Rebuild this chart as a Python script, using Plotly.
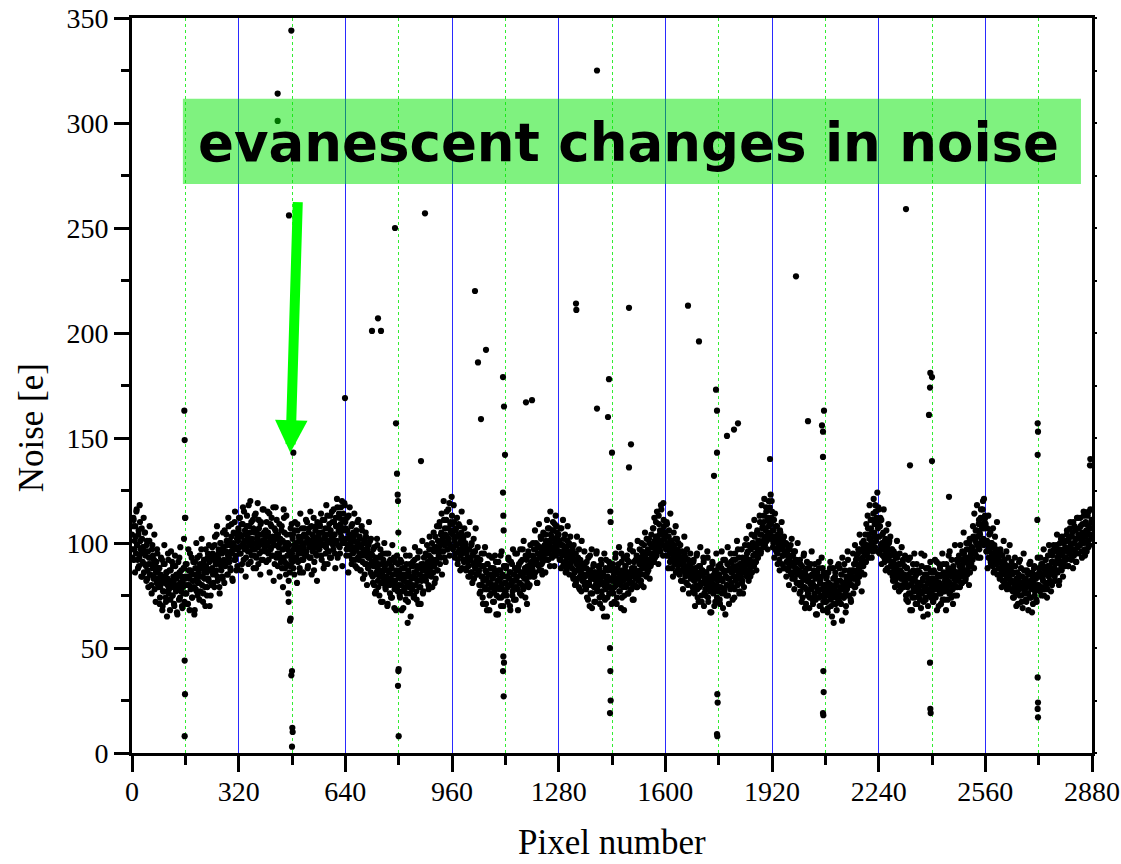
import plotly.graph_objects as go

# ---- bulk noise values: set A (even pixels) and set B (odd pixels), 320-pixel blocks ----
block_0000 = [104, 97, 112, 92, 101, 108, 95, 116, 99, 88, 106, 93, 110, 97, 84,
              102, 91, 98, 86, 105, 94, 89, 99, 83, 96, 90, 101, 85, 93, 80, 97, 88, 84, 92, 78, 90, 86, 81, 95, 83,
              79, 88, 74, 85, 81, 92, 70, 83, 77, 90, 84, 72, 86, 80, 95, 76, 82, 68, 87, 79,
              91, 75, 84, 71, 80, 89, 77, 83, 66, 85, 78, 93, 74, 81, 87, 70, 82, 76, 88, 80,
              84, 76, 90, 80, 71, 87, 83, 95, 78, 86, 74, 82, 91, 79, 68, 88, 85, 77, 93, 81,
              86, 73, 90, 84, 97, 80, 88, 76, 92, 83, 70, 89, 86, 79, 95, 82, 91, 87, 75, 93,
              88, 95, 81, 92, 99, 86, 90, 104, 84, 93, 97, 79, 91, 100, 87, 95, 83, 98, 92, 106,
              89, 96, 101, 85, 94, 108, 91, 99, 87, 103, 95, 82, 100, 97, 110, 92, 98, 104, 89, 101]
block_0320 = [106, 98, 112, 95, 103, 90, 109, 100, 115, 97, 104, 93, 108, 101, 96, 118, 99, 105, 91, 110,
              102, 97, 107, 94, 113, 100, 88, 106, 103, 98, 111, 95, 104, 109, 92, 101, 116, 99, 105, 97,
              103, 96, 110, 99, 105, 92, 114, 101, 97, 108, 94, 103, 117, 99, 90, 106, 102, 111, 95, 104,
              98, 109, 100, 93, 106, 88, 101, 97, 112, 91, 99, 85, 104, 94, 100, 82, 96, 89, 107, 92,
              95, 102, 88, 99, 106, 93, 100, 97, 109, 91, 103, 98, 86, 101, 95, 107, 99, 92, 104, 100,
              96, 111, 94, 102, 89, 105, 98, 101, 93, 108, 100, 96, 103, 87, 99, 106, 102, 94, 110, 98,
              103, 97, 108, 100, 94, 105, 111, 99, 102, 90, 107, 98, 104, 113, 96, 101, 109, 93, 106, 100,
              115, 103, 97, 110, 104, 88, 108, 101, 117, 99, 106, 112, 95, 109, 103, 120, 100, 114, 107, 118]
block_0640 = [110, 102, 97, 106, 99, 113, 94, 103, 100, 108, 92, 98, 105, 96, 101, 89, 104, 97, 110, 93,
              99, 95, 102, 87, 98, 106, 91, 96, 100, 85, 94, 103, 90, 97, 88, 99, 93, 101, 86, 95,
              91, 84, 97, 80, 89, 93, 77, 86, 99, 82, 90, 75, 87, 94, 81, 85, 72, 92, 83, 88,
              79, 95, 84, 70, 87, 81, 91, 76, 83, 89, 74, 85, 80, 93, 78, 82, 68, 86, 79, 90,
              80, 87, 74, 83, 91, 77, 85, 69, 82, 88, 79, 94, 76, 84, 72, 86, 81, 90, 65, 83,
              78, 89, 84, 75, 92, 80, 86, 73, 88, 82, 96, 79, 85, 71, 90, 83, 87, 77, 93, 84,
              89, 82, 94, 86, 91, 78, 97, 88, 93, 84, 100, 90, 86, 96, 81, 103, 92, 98, 87, 101,
              94, 108, 90, 99, 105, 85, 102, 96, 111, 93, 104, 100, 115, 97, 107, 102, 119, 99, 110, 106]
block_0960 = [113, 104, 98, 110, 101, 95, 107, 99, 103, 92, 109, 97, 100, 94, 105, 88, 98, 102, 91, 96,
              100, 87, 95, 93, 104, 89, 97, 84, 92, 99, 86, 94, 90, 83, 96, 88, 91, 85, 93, 87,
              86, 80, 92, 77, 84, 89, 74, 82, 95, 79, 87, 71, 83, 90, 78, 85, 68, 81, 88, 76,
              93, 80, 84, 72, 86, 79, 91, 75, 82, 66, 87, 78, 83, 94, 74, 80, 85, 70, 89, 77,
              81, 88, 75, 84, 79, 92, 83, 70, 86, 80, 90, 77, 85, 73, 82, 95, 79, 87, 84, 68,
              89, 81, 76, 91, 85, 80, 97, 78, 86, 83, 74, 88, 92, 81, 87, 79, 94, 84, 90, 86,
              88, 94, 84, 97, 90, 86, 100, 92, 81, 95, 89, 98, 93, 103, 87, 96, 91, 105, 94, 99,
              86, 101, 97, 92, 107, 95, 100, 89, 104, 98, 93, 106, 102, 96, 109, 100, 94, 108, 103, 99]
block_1280 = [104, 96, 100, 92, 107, 94, 99, 89, 102, 95, 91, 98, 87, 101, 93, 96, 85, 99, 90, 94,
              88, 97, 83, 92, 86, 95, 81, 90, 87, 93, 79, 89, 84, 91, 77, 88, 85, 82, 90, 80,
              84, 78, 91, 81, 73, 87, 80, 94, 76, 85, 69, 83, 89, 79, 86, 72, 82, 96, 77, 84,
              80, 88, 71, 83, 90, 75, 81, 86, 65, 84, 78, 92, 80, 74, 87, 82, 76, 89, 79, 83,
              82, 88, 76, 85, 79, 93, 81, 71, 86, 83, 90, 77, 84, 80, 95, 74, 87, 82, 68, 85,
              89, 79, 83, 92, 76, 86, 81, 97, 84, 78, 88, 73, 85, 91, 80, 87, 83, 94, 79, 86,
              84, 90, 87, 93, 80, 96, 89, 85, 99, 91, 94, 88, 102, 86, 97, 92, 100, 95, 89, 104,
              93, 98, 107, 91, 101, 96, 110, 94, 103, 99, 113, 97, 106, 101, 116, 104, 99, 119, 108, 102]
block_1600 = [105, 97, 110, 100, 94, 103, 98, 91, 101, 95, 88, 99, 93, 96, 90, 102, 86, 94, 97, 89,
              92, 85, 96, 90, 87, 93, 82, 91, 88, 95, 84, 89, 86, 92, 80, 88, 85, 90, 83, 87,
              85, 79, 91, 82, 76, 88, 83, 94, 78, 86, 72, 84, 89, 80, 75, 87, 81, 93, 70, 83,
              78, 86, 80, 96, 74, 82, 88, 77, 84, 67, 81, 90, 76, 85, 79, 72, 87, 80, 83, 77,
              79, 85, 71, 83, 88, 76, 82, 92, 78, 86, 66, 84, 80, 90, 75, 87, 83, 79, 95, 81,
              86, 73, 89, 84, 78, 92, 82, 87, 80, 97, 85, 76, 90, 83, 88, 81, 93, 86, 79, 91,
              87, 93, 84, 90, 96, 82, 92, 88, 98, 91, 86, 100, 94, 89, 103, 95, 91, 99, 106, 93,
              101, 97, 110, 95, 104, 100, 108, 98, 113, 103, 107, 117, 101, 111, 105, 120, 109, 104, 123, 112]
block_1920 = [115, 106, 100, 111, 103, 97, 108, 101, 95, 104, 99, 92, 106, 97, 101, 90, 98, 94, 103, 88,
              96, 100, 91, 95, 87, 97, 93, 89, 99, 85, 94, 90, 86, 96, 83, 92, 88, 81, 91, 87,
              86, 80, 92, 77, 84, 89, 74, 83, 95, 79, 87, 71, 82, 88, 76, 84, 69, 81, 90, 78,
              85, 73, 80, 87, 75, 83, 66, 79, 86, 77, 91, 74, 81, 70, 84, 78, 88, 72, 80, 76,
              78, 72, 84, 75, 69, 81, 77, 88, 73, 80, 65, 76, 83, 71, 79, 86, 74, 68, 82, 77,
              90, 72, 79, 75, 85, 63, 78, 81, 74, 87, 76, 70, 83, 79, 92, 75, 81, 86, 73, 84,
              80, 87, 76, 90, 83, 79, 92, 86, 82, 95, 88, 84, 97, 90, 86, 100, 93, 89, 98, 94,
              104, 91, 99, 96, 107, 93, 102, 98, 111, 100, 105, 96, 114, 103, 109, 118, 101, 112, 124, 107]
block_2240 = [116, 103, 108, 97, 111, 100, 94, 105, 98, 91, 102, 95, 99, 88, 96, 92, 101, 86, 94, 90,
              97, 84, 91, 88, 95, 82, 89, 86, 93, 80, 87, 84, 90, 78, 86, 83, 91, 79, 85, 82,
              81, 75, 88, 79, 72, 85, 80, 93, 76, 83, 68, 82, 87, 77, 74, 84, 79, 90, 71, 81,
              78, 86, 73, 80, 95, 76, 82, 65, 79, 85, 74, 88, 77, 81, 70, 83, 78, 75, 86, 80,
              77, 83, 72, 80, 86, 75, 82, 91, 78, 84, 70, 81, 88, 76, 79, 85, 73, 90, 80, 77,
              83, 68, 86, 79, 82, 94, 76, 81, 87, 74, 84, 78, 89, 80, 75, 85, 82, 92, 79, 86,
              83, 89, 79, 86, 92, 81, 88, 84, 95, 87, 82, 91, 97, 85, 93, 89, 100, 86, 94, 90,
              98, 92, 103, 88, 96, 101, 94, 106, 99, 93, 109, 97, 104, 112, 100, 107, 116, 102, 121, 110]
block_2560 = [112, 101, 96, 107, 99, 93, 104, 97, 91, 100, 95, 89, 98, 92, 87, 96, 90, 94, 85, 93,
              88, 91, 84, 95, 86, 90, 82, 88, 85, 92, 80, 87, 83, 89, 79, 86, 84, 81, 88, 78,
              82, 77, 86, 74, 80, 89, 76, 83, 79, 71, 85, 78, 92, 81, 75, 84, 69, 80, 87, 77,
              83, 73, 79, 86, 76, 81, 90, 74, 82, 78, 67, 84, 80, 88, 75, 79, 83, 72, 85, 78,
              80, 86, 77, 84, 90, 79, 83, 88, 75, 85, 92, 81, 87, 78, 94, 84, 89, 82, 96, 86,
              80, 91, 88, 97, 84, 90, 86, 99, 93, 87, 95, 82, 100, 91, 88, 103, 94, 90, 97, 92,
              98, 93, 104, 96, 89, 101, 95, 107, 99, 92, 103, 97, 110, 94, 100, 106, 91, 102, 98, 112,
              95, 104, 99, 108, 101, 93, 105, 100, 113, 97, 103, 109, 96, 106, 101, 115, 99, 107, 104, 110]

odd_0000 = [93, 108, 111, 97, 86, 103, 115, 99, 92, 104, 89, 118, 101, 95, 107, 84, 98, 112, 90, 105,
            96, 82, 101, 87, 79, 93, 108, 85, 90, 76, 99, 94, 83, 104, 88, 72, 91, 97, 86, 80,
            88, 71, 79, 93, 84, 68, 77, 90, 99, 81, 74, 86, 65, 83, 92, 78, 87, 73, 96, 80,
            75, 89, 82, 70, 94, 78, 85, 67, 80, 91, 73, 86, 98, 77, 84, 69, 79, 88, 72, 83,
            90, 76, 71, 84, 97, 80, 68, 87, 79, 93, 74, 85, 82, 66, 91, 78, 100, 83, 75, 88,
            81, 94, 77, 89, 102, 84, 72, 91, 86, 79, 97, 88, 75, 93, 83, 99, 70, 87, 92, 80,
            98, 85, 94, 79, 103, 90, 87, 108, 82, 95, 92, 76, 100, 89, 97, 84, 105, 91, 81, 96,
            90, 104, 99, 85, 112, 93, 101, 88, 96, 109, 83, 98, 105, 92, 115, 94, 87, 102, 97, 107]
odd_0320 = [112, 95, 104, 87, 109, 99, 117, 92, 101, 106, 84, 98, 113, 103, 90, 108, 96, 120, 100, 94,
            99, 111, 88, 105, 97, 114, 93, 102, 119, 90, 107, 100, 85, 110, 96, 104, 92, 116, 101, 98,
            106, 91, 100, 115, 95, 103, 86, 109, 98, 112, 94, 101, 82, 107, 99, 117, 93, 104, 89, 102,
            95, 84, 102, 91, 108, 97, 79, 93, 105, 88, 100, 113, 90, 97, 76, 99, 86, 104, 94, 109,
            91, 104, 97, 85, 110, 99, 93, 81, 106, 95, 101, 88, 114, 97, 92, 103, 86, 98, 107, 94,
            103, 96, 110, 88, 100, 107, 93, 115, 99, 85, 104, 97, 112, 91, 101, 95, 108, 82, 100, 105,
            97, 109, 101, 114, 92, 105, 99, 88, 111, 103, 95, 118, 100, 90, 107, 96, 104, 113, 93, 102,
            110, 99, 116, 104, 95, 112, 101, 121, 93, 108, 114, 98, 105, 117, 102, 89, 111, 106, 119, 100]
odd_0640 = [107, 94, 112, 99, 86, 104, 117, 97, 101, 90, 109, 95, 103, 114, 92, 98, 106, 88, 100, 111,
            92, 103, 87, 99, 108, 94, 83, 97, 101, 90, 105, 96, 80, 99, 93, 110, 89, 95, 102, 85,
            94, 81, 89, 98, 76, 91, 85, 102, 88, 79, 93, 84, 97, 72, 90, 86, 95, 81, 100, 87,
            78, 90, 83, 71, 95, 86, 80, 92, 74, 88, 99, 82, 85, 69, 91, 79, 87, 94, 77, 84,
            86, 75, 92, 80, 68, 88, 83, 97, 78, 85, 73, 90, 81, 62, 87, 79, 94, 76, 84, 89,
            80, 91, 74, 86, 98, 83, 77, 89, 93, 71, 85, 96, 79, 88, 82, 101, 76, 90, 84, 87,
            95, 84, 99, 88, 80, 94, 103, 90, 86, 97, 79, 92, 105, 89, 98, 83, 91, 108, 87, 96,
            98, 110, 93, 104, 114, 96, 101, 120, 99, 107, 91, 111, 103, 97, 116, 100, 94, 109, 105, 122]
odd_0960 = [109, 97, 118, 102, 93, 106, 99, 112, 90, 104, 96, 108, 87, 101, 115, 95, 103, 92, 107, 98,
            99, 88, 104, 91, 84, 97, 110, 93, 86, 100, 81, 95, 102, 89, 96, 107, 85, 92, 98, 90,
            87, 76, 92, 80, 95, 84, 71, 89, 83, 98, 78, 86, 68, 90, 81, 94, 75, 85, 88, 79,
            83, 72, 88, 77, 94, 80, 66, 85, 79, 91, 74, 82, 87, 70, 96, 78, 84, 75, 89, 81,
            77, 89, 84, 72, 93, 80, 86, 68, 91, 82, 75, 97, 79, 85, 88, 73, 83, 95, 78, 87,
            90, 81, 97, 86, 75, 92, 84, 101, 79, 88, 94, 83, 71, 89, 96, 85, 80, 99, 87, 91,
            88, 100, 93, 84, 106, 97, 91, 81, 99, 95, 109, 87, 94, 102, 90, 85, 98, 104, 92, 96,
            104, 95, 111, 99, 92, 107, 101, 115, 97, 103, 94, 110, 106, 89, 100, 113, 98, 105, 102, 96]
odd_1280 = [101, 92, 107, 88, 99, 95, 111, 90, 97, 104, 86, 98, 93, 108, 89, 100, 94, 103, 91, 96,
            93, 84, 99, 87, 80, 95, 91, 103, 83, 89, 97, 78, 92, 86, 101, 82, 90, 85, 96, 88,
            79, 88, 74, 85, 93, 81, 70, 87, 83, 97, 76, 84, 90, 72, 86, 80, 95, 78, 82, 89,
            86, 74, 81, 92, 77, 69, 85, 80, 95, 73, 88, 82, 65, 84, 79, 91, 76, 83, 87, 71,
            78, 90, 83, 72, 86, 95, 80, 74, 88, 82, 98, 77, 85, 69, 91, 84, 79, 93, 75, 87,
            89, 80, 94, 85, 76, 91, 83, 99, 78, 87, 81, 96, 73, 88, 84, 92, 79, 86, 101, 82,
            86, 97, 91, 82, 100, 88, 94, 79, 93, 105, 89, 84, 96, 91, 87, 102, 83, 95, 90, 98,
            95, 107, 99, 112, 93, 103, 97, 115, 101, 90, 109, 104, 96, 118, 100, 106, 94, 111, 103, 98]
odd_1600 = [103, 94, 109, 99, 88, 106, 96, 114, 92, 101, 97, 84, 105, 99, 91, 108, 95, 102, 87, 100,
            94, 85, 99, 82, 91, 96, 78, 89, 103, 86, 93, 81, 97, 88, 92, 76, 90, 95, 84, 87,
            88, 77, 92, 84, 70, 86, 80, 95, 74, 83, 89, 79, 98, 81, 72, 87, 85, 91, 76, 82,
            75, 86, 81, 93, 72, 84, 78, 67, 88, 80, 91, 77, 83, 70, 86, 79, 95, 74, 82, 89,
            85, 73, 90, 79, 96, 82, 69, 87, 77, 92, 84, 75, 80, 98, 83, 71, 88, 78, 91, 86,
            79, 92, 87, 74, 95, 83, 89, 101, 80, 86, 93, 77, 90, 84, 97, 82, 76, 91, 88, 99,
            90, 102, 95, 86, 99, 108, 92, 84, 97, 104, 89, 100, 94, 111, 91, 98, 87, 105, 96, 101,
            100, 113, 104, 96, 118, 107, 101, 110, 121, 99, 106, 115, 103, 97, 112, 108, 117, 102, 109, 120]
odd_1920 = [111, 98, 106, 93, 114, 101, 96, 108, 90, 103, 99, 87, 105, 97, 110, 94, 102, 88, 100, 96,
            95, 84, 99, 88, 93, 80, 97, 91, 86, 102, 83, 94, 89, 78, 96, 87, 92, 85, 100, 81,
            87, 76, 90, 81, 72, 86, 79, 94, 83, 69, 85, 78, 91, 75, 82, 88, 74, 84, 80, 96,
            81, 71, 85, 76, 90, 73, 79, 66, 84, 77, 88, 70, 82, 75, 93, 78, 68, 86, 74, 80,
            72, 83, 78, 67, 86, 75, 80, 91, 70, 79, 74, 88, 62, 77, 84, 71, 81, 76, 89, 73,
            77, 88, 82, 71, 85, 93, 79, 74, 90, 81, 67, 84, 78, 96, 83, 75, 87, 80, 72, 86,
            83, 95, 87, 79, 99, 90, 84, 93, 81, 97, 88, 104, 86, 92, 77, 96, 89, 101, 85, 94,
            99, 109, 95, 113, 104, 97, 118, 102, 107, 93, 111, 100, 121, 105, 98, 115, 103, 110, 96, 117]
odd_2240 = [108, 95, 112, 99, 90, 104, 97, 116, 93, 101, 87, 106, 98, 92, 109, 100, 94, 103, 89, 97,
            91, 82, 96, 86, 79, 93, 88, 101, 84, 90, 77, 95, 87, 83, 98, 80, 92, 85, 89, 94,
            84, 73, 88, 79, 92, 76, 83, 68, 86, 80, 74, 90, 78, 95, 82, 71, 85, 77, 87, 81,
            75, 86, 80, 69, 89, 77, 83, 72, 94, 79, 73, 85, 78, 66, 88, 81, 76, 91, 74, 82,
            83, 72, 87, 78, 92, 74, 81, 68, 85, 79, 90, 76, 84, 71, 80, 95, 77, 86, 73, 82,
            78, 90, 84, 73, 88, 81, 96, 77, 85, 92, 80, 71, 87, 83, 99, 79, 86, 75, 91, 82,
            94, 84, 99, 88, 81, 96, 90, 105, 86, 93, 83, 100, 91, 87, 97, 80, 102, 89, 95, 92,
            97, 108, 102, 114, 95, 106, 100, 118, 103, 98, 111, 105, 93, 116, 101, 109, 120, 99, 107, 113]
odd_2560 = [109, 96, 101, 88, 113, 98, 93, 105, 90, 100, 94, 107, 86, 99, 103, 91, 97, 110, 92, 95,
            92, 83, 97, 88, 79, 94, 86, 101, 81, 90, 85, 96, 78, 89, 93, 84, 99, 87, 82, 91,
            85, 74, 89, 78, 93, 81, 70, 86, 77, 83, 91, 75, 80, 88, 72, 84, 79, 95, 76, 82,
            83, 72, 87, 76, 68, 85, 80, 91, 74, 79, 86, 71, 82, 89, 77, 84, 73, 80, 93, 78,
            88, 79, 93, 84, 75, 90, 82, 97, 78, 86, 92, 80, 74, 89, 85, 99, 81, 87, 77, 91,
            94, 85, 99, 88, 82, 96, 91, 104, 86, 93, 80, 97, 90, 102, 87, 95, 84, 100, 92, 89,
            101, 92, 106, 97, 89, 103, 95, 110, 99, 93, 105, 88, 100, 108, 96, 102, 91, 112, 98, 104,
            107, 99, 112, 103, 96, 109, 101, 115, 105, 94, 110, 106, 100, 113, 98, 108, 104, 116, 102, 111]

block_starts = [0, 320, 640, 960, 1280, 1600, 1920, 2240, 2560]
even_blocks = [block_0000, block_0320, block_0640, block_0960, block_1280,
               block_1600, block_1920, block_2240, block_2560]
odd_blocks = [odd_0000, odd_0320, odd_0640, odd_0960, odd_1280,
              odd_1600, odd_1920, odd_2240, odd_2560]
block_width = 320

# ---- outlier pixels ----
outlier_x = [157, 158, 159, 160, 156, 158, 159, 158,
             437, 437, 455, 471, 478, 484,
             470, 474, 476, 480, 478, 481, 482, 480,
             639, 720, 738, 747,
             789, 792, 795, 797, 798, 799, 800, 799, 798, 800,
             867, 879, 1029, 1038, 1047, 1062,
             1113, 1116, 1119, 1113, 1114, 1115, 1114, 1116, 1113, 1115,
             1182, 1200, 1332, 1333, 1395, 1395,
             1431, 1428, 1440, 1434, 1435, 1436, 1434, 1435, 1436,
             1491, 1491, 1497, 1668, 1701,
             1752, 1755, 1755, 1746, 1756, 1757, 1755, 1756,
             1785, 1806, 1818, 1914, 1992, 2028,
             2076, 2070, 2073, 2073, 2074, 2075, 2073, 2074,
             2322, 2334, 2395, 2400, 2394, 2391, 2400, 2394, 2395, 2396,
             2451, 2717, 2718, 2717, 2716, 2717, 2718, 2717, 2718,
             2874, 2875]
outlier_y = [163, 149, 112, 112, 102, 44, 28, 8,
             314, 301, 116, 256, 344, 143,
             72, 63, 64, 39, 37, 12, 10, 3,
             169, 201, 207, 201,
             250, 157, 133, 123, 120, 105, 40, 39, 32, 8,
             139, 257, 220, 186, 159, 192,
             179, 165, 142, 124, 113, 106, 46, 43, 39, 27,
             167, 168, 214, 211, 325, 164,
             178, 160, 143, 50, 39, 25, 19, 115, 110,
             212, 136, 147, 213, 196,
             173, 163, 143, 132, 28, 24, 9, 8,
             151, 154, 157, 140, 227, 158,
             163, 156, 153, 141, 39, 29, 19, 18,
             259, 137, 181, 179, 174, 161, 139, 43, 21, 19,
             122, 157, 153, 142, 111, 36, 24, 21, 17,
             137, 140]

x_ticks = [0, 320, 640, 960, 1280, 1600, 1920, 2240, 2560, 2880]
y_ticks = [0, 50, 100, 150, 200, 250, 300, 350]

all_x, all_y = [], []
for offset, group in ((0.0, even_blocks), (1.0, odd_blocks)):
    for start, vals in zip(block_starts, group):
        step = block_width / len(vals)
        for i, v in enumerate(vals):
            all_x.append(start + offset + i * step)
            all_y.append(v)
all_x += outlier_x
all_y += outlier_y

fig = go.Figure()
fig.add_trace(go.Scatter(x=all_x, y=all_y, mode="markers",
                         marker=dict(color="black", size=6.2, line=dict(width=0)),
                         showlegend=False, hoverinfo="skip"))
fig.add_trace(go.Scatter(x=[], y=[], yaxis="y2", showlegend=False))

tickfont = dict(family="Liberation Serif", size=28, color="black")
fig.update_layout(
    width=1121, height=864,
    margin=dict(l=132, r=29, t=18, b=111),
    paper_bgcolor="white", plot_bgcolor="white",
    showlegend=False,
    xaxis=dict(range=[0, 2880], tickvals=x_ticks, ticktext=[str(t) for t in x_ticks],
               automargin=False,
               showgrid=True, gridcolor="#2a2aff", gridwidth=1,
               zeroline=False, showline=True, linecolor="black", linewidth=3, mirror=True,
               ticks="outside", ticklen=16, tickwidth=3, tickcolor="black",
               tickfont=tickfont, ticklabelstandoff=-5,
               minor=dict(dtick=160, tick0=0, showgrid=True, gridcolor="#33ee33",
                          griddash="dot", gridwidth=1, ticks="outside", ticklen=9,
                          tickwidth=3, tickcolor="black")),
    yaxis=dict(range=[0, 350], tickvals=y_ticks, ticktext=[str(t) for t in y_ticks],
               automargin=False,
               showgrid=False, zeroline=False, showline=True, linecolor="black",
               linewidth=3, mirror=True,
               ticks="outside", ticklen=15, tickwidth=3, tickcolor="black",
               tickfont=tickfont,
               minor=dict(dtick=25, tick0=0, ticks="outside", ticklen=8,
                          tickwidth=3, tickcolor="black", showgrid=False)),
    yaxis2=dict(range=[0, 350], overlaying="y", side="right", dtick=25, tick0=0,
                automargin=False,
                ticks="outside", ticklen=4, tickwidth=2, tickcolor="black",
                showticklabels=False, showgrid=False, zeroline=False, showline=False),
)

# green highlight box
fig.add_shape(type="rect", xref="paper", yref="paper",
              x0=0.053, x1=0.9885, y0=0.774, y1=0.890,
              fillcolor="rgba(0,230,0,0.5)", line=dict(width=0), layer="above")

fig.add_annotation(xref="paper", yref="paper", x=0.517, y=0.831,
                   text="<b>evanescent changes in noise</b>", showarrow=False,
                   font=dict(family="DejaVu Sans", size=53, color="black"),
                   xanchor="center", yanchor="middle")

# arrow
fig.add_annotation(x=475, y=143, xref="x", yref="y", text="",
                   showarrow=True, arrowhead=2, arrowsize=0.65, arrowwidth=10,
                   arrowcolor="#00ff00", ax=7.5, ay=-252, standoff=0)

# axis titles
fig.add_annotation(xref="paper", yref="paper", x=0.5, y=-0.122,
                   text="Pixel number", showarrow=False,
                   font=dict(family="Liberation Serif", size=35, color="black"),
                   xanchor="center", yanchor="middle")
fig.add_annotation(xref="paper", yref="paper", x=-0.105, y=0.442,
                   text="Noise [e]", showarrow=False, textangle=-90,
                   font=dict(family="Liberation Serif", size=35, color="black"),
                   xanchor="center", yanchor="middle")

fig.write_html("out.html")
